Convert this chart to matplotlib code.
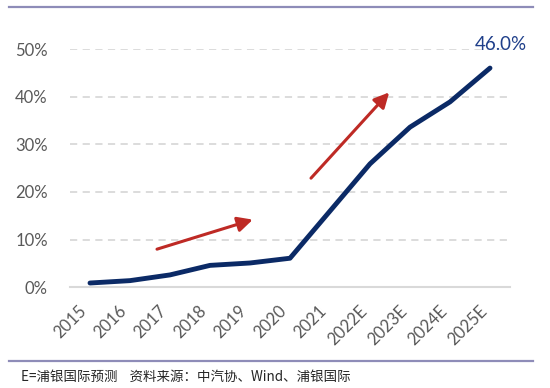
import matplotlib
matplotlib.use("Agg")
import matplotlib.pyplot as plt
import matplotlib.transforms as mtransforms
from matplotlib.lines import Line2D
from matplotlib.ticker import PercentFormatter

plt.rcParams['font.family'] = ['Lato', 'DejaVu Sans']

years = ["2015", "2016", "2017", "2018", "2019", "2020", "2021",
         "2022E", "2023E", "2024E", "2025E"]
penetration = [0.009, 0.014, 0.026, 0.046, 0.051, 0.061, 0.160,
               0.259, 0.336, 0.389, 0.460]
yticks = [0.0, 0.1, 0.2, 0.3, 0.4, 0.5]
end_label = "46.0%"
footer = "E=浦银国际预测    资料来源：中汽协、Wind、浦银国际"
# trend arrows: (tail_x, tail_y, tip_x, tip_y) in data units
arrows = [(1.675, 0.080, 4.07, 0.142), (5.525, 0.229, 7.48, 0.409)]

W, H = 550, 388
fig = plt.figure(figsize=(W / 100, H / 100), dpi=100)
ax = fig.add_axes([70 / W, 1 - 287.3 / H, 440 / W, (287.3 - 49) / H])

x = list(range(len(years)))
ax.plot(x, penetration, color='#0B2A66', lw=3.5, solid_capstyle='round',
        solid_joinstyle='round', zorder=3)

ax.set_xlim(-0.5, len(years) - 0.5)
ax.set_ylim(0, 0.5)
ax.set_yticks(yticks)
ax.yaxis.set_major_formatter(PercentFormatter(1.0, decimals=0))
ax.set_xticks(x)
ax.set_xticklabels(years, rotation=45, ha='right')
offset = mtransforms.ScaledTranslation(6 / 100, 0, fig.dpi_scale_trans)
for lbl in ax.get_xticklabels():
    lbl.set_transform(lbl.get_transform() + offset)

for s in ['top', 'right', 'left']:
    ax.spines[s].set_visible(False)
ax.spines['bottom'].set_color('#D9D9D9')
ax.spines['bottom'].set_linewidth(1.5)

ax.grid(axis='y', color='#D9D9D9', lw=1.3, ls=(0, (4, 3)), zorder=0)
for gl in ax.get_ygridlines()[:1]:
    gl.set_visible(False)
ax.tick_params(axis='both', length=0, colors='#595959', labelsize=12)
ax.tick_params(axis='y', pad=16)
ax.tick_params(axis='x', pad=11)

ax.annotate(end_label, xy=(x[-1], penetration[-1]), xytext=(8, 11),
            textcoords='offset points', ha='center', va='bottom',
            color='#1F3F8A', fontsize=13.5)

for tx, ty, hx, hy in arrows:
    ax.annotate('', xy=(hx, hy), xytext=(tx, ty),
                arrowprops=dict(arrowstyle='-|>,head_length=0.9,head_width=0.45',
                                color='#BE2A25', lw=2.2, shrinkA=0, shrinkB=0),
                zorder=4)

# frame lines
fig.add_artist(Line2D([9 / W, 533 / W], [1 - 7 / H, 1 - 7 / H],
                      color='#8E8CB8', lw=1.6))
fig.add_artist(Line2D([9 / W, 533 / W], [1 - 361 / H, 1 - 361 / H],
                      color='#8E8CB8', lw=1.6))
fig.text(21 / W, 1 - 377 / H, footer, fontsize=9.7, color='#262626',
         va='center', ha='left',
         family=['Noto Sans CJK SC', 'DejaVu Sans'])

fig.savefig('out.png', dpi=100, facecolor='white')
